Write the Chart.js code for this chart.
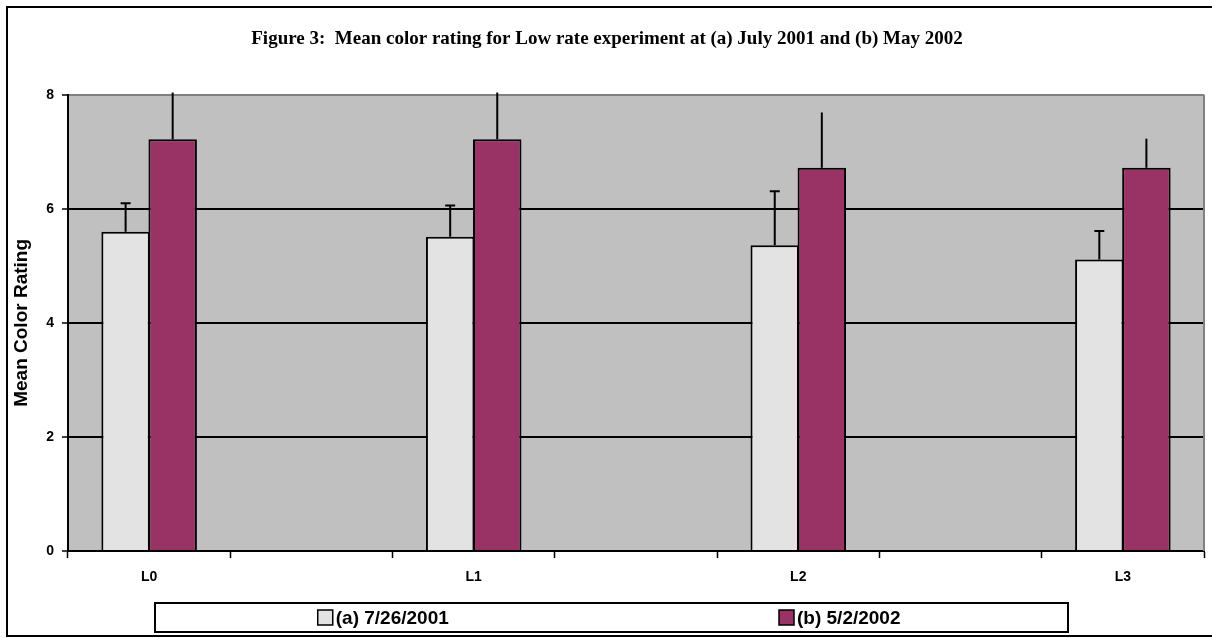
<!DOCTYPE html>
<html>
<head>
<meta charset="utf-8">
<script src="https://cdn.jsdelivr.net/npm/chart.js@4"></script>
<style>
  html, body { margin: 0; padding: 0; background: #fff; }
  #wrap { width: 1212px; height: 638px; }
</style>
</head>
<body>
<div id="wrap"><canvas id="chart" width="1212" height="638"></canvas></div>
<script>
(function () {
  'use strict';

  // treatment levels; blank slots sit between them on the axis
  var levels = ['L0', 'L1', 'L2', 'L3'];
  var meanJuly = [5.60, 5.51, 5.36, 5.11];
  var errJuly = [0.50, 0.55, 0.95, 0.50];
  var meanMay = [7.22, 7.22, 6.72, 6.72];
  var errMay = [0.82, 0.82, 0.97, 0.51];
  var yTicks = [0, 2, 4, 6, 8];

  var SANS = '"Liberation Sans", Arial, sans-serif';
  var SERIF = '"Liberation Serif", "Times New Roman", serif';

  function spread(values) {
    var out = [];
    values.forEach(function (v, i) {
      if (i > 0) {
        out.push(null);
      }
      out.push(v);
    });
    return out;
  }

  var labels = spread(levels).map(function (v) {
    return v === null ? '' : v;
  });

  var plotFrame = {
    id: 'plotFrame',
    beforeDraw: function (chart) {
      var ctx = chart.ctx;
      var a = chart.chartArea;
      ctx.save();
      ctx.fillStyle = '#fff';
      ctx.fillRect(0, 0, chart.width, chart.height);
      ctx.fillStyle = '#c0c0c0';
      ctx.fillRect(a.left, a.top, a.right - a.left, a.bottom - a.top);
      ctx.restore();
    },
    beforeDatasetsDraw: function (chart) {
      var ctx = chart.ctx;
      var a = chart.chartArea;
      ctx.save();
      ctx.strokeStyle = '#808080';
      ctx.lineWidth = 2;
      ctx.beginPath();
      ctx.moveTo(a.right, a.top);
      ctx.lineTo(a.right, a.bottom);
      ctx.stroke();
      ctx.restore();
    },
    afterDraw: function (chart) {
      var ctx = chart.ctx;
      ctx.save();
      ctx.strokeStyle = '#000';
      ctx.lineWidth = 2;
      ctx.strokeRect(7, 7, chart.width + 20, 629);
      ctx.restore();
    }
  };

  // upper-only error whiskers, read from each dataset's errorPlus
  var errorBars = {
    id: 'errorBars',
    afterDatasetsDraw: function (chart) {
      var ctx = chart.ctx;
      var y = chart.scales.y;
      ctx.save();
      ctx.strokeStyle = '#000';
      ctx.lineWidth = 2;
      chart.data.datasets.forEach(function (ds, di) {
        var meta = chart.getDatasetMeta(di);
        ds.data.forEach(function (v, i) {
          if (v === null) {
            return;
          }
          var bar = meta.data[i];
          var top = Math.max(y.getPixelForValue(v + ds.errorPlus[i]), chart.chartArea.top - 3);
          ctx.beginPath();
          ctx.moveTo(bar.x, bar.y);
          ctx.lineTo(bar.x, top);
          if (ds.capWidth) {
            ctx.moveTo(bar.x - ds.capWidth / 2, top);
            ctx.lineTo(bar.x + ds.capWidth / 2, top);
          }
          ctx.stroke();
        });
      });
      ctx.restore();
    }
  };

  var boxedLegend = {
    id: 'boxedLegend',
    afterDraw: function (chart) {
      var ctx = chart.ctx;
      var box = { x: 155, y: 603, w: 913, h: 29 };
      ctx.save();
      ctx.strokeStyle = '#000';
      ctx.lineWidth = 2;
      ctx.strokeRect(box.x, box.y, box.w, box.h);
      ctx.font = 'bold 19px ' + SANS;
      ctx.textBaseline = 'middle';
      ctx.fillStyle = '#000';
      var slot = box.w / chart.data.datasets.length;
      var cy = box.y + box.h / 2;
      chart.data.datasets.forEach(function (ds, i) {
        var sq = 15;
        var gap = 3;
        var tw = ctx.measureText(ds.label).width;
        var x0 = box.x + slot * i + (slot - (sq + gap + tw)) / 2;
        ctx.fillStyle = ds.backgroundColor;
        ctx.fillRect(x0, cy - sq / 2, sq, sq);
        ctx.lineWidth = 1.5;
        ctx.strokeRect(x0, cy - sq / 2, sq, sq);
        ctx.fillStyle = '#000';
        ctx.fillText(ds.label, x0 + sq + gap, cy + 1);
      });
      ctx.restore();
    }
  };

  new Chart(document.getElementById('chart'), {
    type: 'bar',
    data: {
      labels: labels,
      datasets: [
        {
          label: '(a) 7/26/2001',
          data: spread(meanJuly),
          errorPlus: spread(errJuly),
          capWidth: 10,
          backgroundColor: '#e3e3e3',
          borderColor: '#000',
          borderWidth: 2,
          categoryPercentage: 0.58,
          barPercentage: 1.03
        },
        {
          label: '(b) 5/2/2002',
          data: spread(meanMay),
          errorPlus: spread(errMay),
          capWidth: 0,
          backgroundColor: '#993366',
          borderColor: '#000',
          borderWidth: 2,
          categoryPercentage: 0.58,
          barPercentage: 1.03
        }
      ]
    },
    options: {
      responsive: false,
      animation: false,
      skipNull: true,
      layout: { padding: { left: 10, right: 8, top: 0, bottom: 0 } },
      plugins: {
        legend: { display: false },
        tooltip: { enabled: false },
        title: {
          display: true,
          text: 'Figure 3:  Mean color rating for Low rate experiment at (a) July 2001 and (b) May 2002',
          color: '#000',
          font: { family: SERIF, size: 19, weight: 'bold' },
          padding: { top: 28, bottom: 44 }
        }
      },
      scales: {
        x: {
          offset: true,
          grid: {
            offset: true,
            drawOnChartArea: false,
            drawTicks: true,
            tickLength: 7,
            tickColor: '#000',
            tickWidth: 1.5
          },
          border: { color: '#000', width: 2 },
          ticks: {
            color: '#000',
            font: { family: SANS, size: 14, weight: 'bold' },
            padding: 11,
            maxRotation: 0,
            autoSkip: false
          },
          afterFit: function (s) {
            s.height = 87;
          }
        },
        y: {
          min: yTicks[0],
          max: yTicks[yTicks.length - 1],
          afterBuildTicks: function (s) {
            s.ticks = yTicks.map(function (v) {
              return { value: v };
            });
          },
          grid: {
            color: function (c) {
              return c.tick && c.tick.value === 8 ? '#808080' : '#000';
            },
            lineWidth: 2,
            tickLength: 6,
            tickColor: '#000',
            tickWidth: 1.5
          },
          border: { color: '#000', width: 2 },
          ticks: {
            color: '#000',
            font: { family: SANS, size: 14, weight: 'bold' },
            padding: 8
          },
          title: {
            display: true,
            text: 'Mean Color Rating',
            color: '#000',
            font: { family: SANS, size: 19, weight: 'bold' },
            padding: { top: 0, bottom: 6 }
          },
          afterFit: function (s) {
            s.width = 58;
          }
        }
      }
    },
    plugins: [plotFrame, errorBars, boxedLegend]
  });
})();
</script>
</body>
</html>
